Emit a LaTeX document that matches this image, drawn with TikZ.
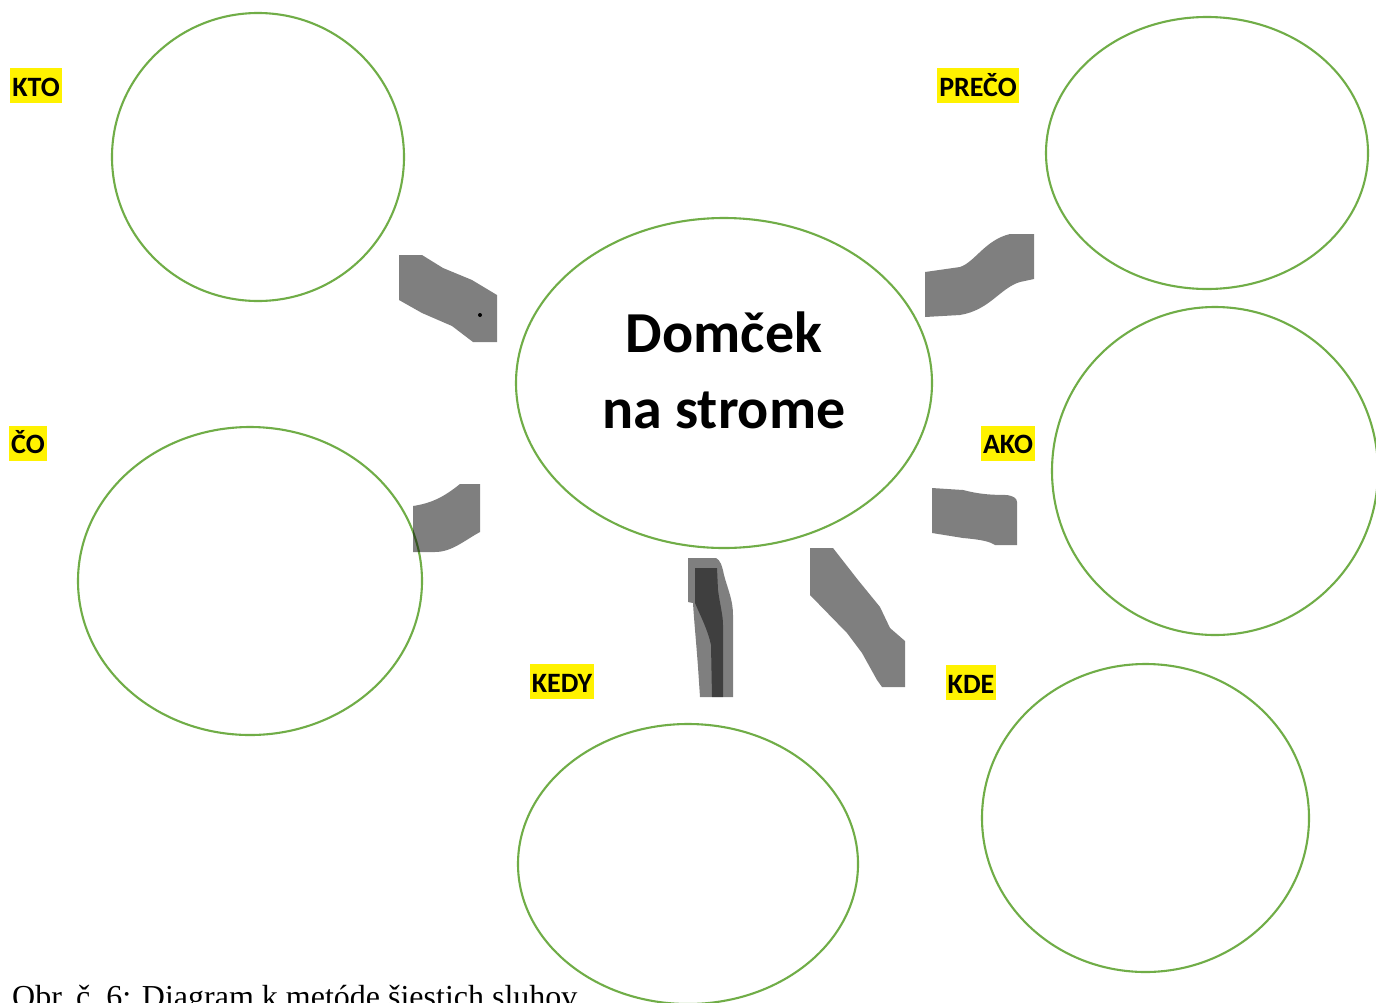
\documentclass[tikz,border=0pt]{standalone}
\usepackage{fontspec}
\setmainfont{Liberation Serif}
\newfontfamily\calib{Carlito}
\usetikzlibrary{shapes.geometric}
\definecolor{ogreen}{HTML}{70AD47}
\begin{document}
\begin{tikzpicture}[x=1pt,y=-1pt,
  bubble/.style={ellipse, draw=ogreen, line width=2.1pt, inner sep=0pt},
  lbl/.style={fill=yellow, font=\calib\bfseries\fontsize{28}{30}\selectfont,
    inner xsep=2pt, inner ysep=7pt, text height=21pt, text depth=0pt},
  title/.style={font=\calib\bfseries\fontsize{58}{70}\selectfont, anchor=base, inner sep=0pt},
  conn/.style={fill=black, fill opacity=0.5}]
\useasboundingbox (0,0) rectangle (1376,1002);
\clip (0,0) rectangle (1376,1002);
\fill[white] (0,0) rectangle (1376,1002);

% bubbles
\node[bubble, minimum width=292pt, minimum height=288pt] (kto) at (258,157) {};
\node[bubble, minimum width=322pt, minimum height=272pt] (preco) at (1207,153) {};
\node[bubble, minimum width=416pt, minimum height=330pt] (center) at (724,383) {};
\node[bubble, minimum width=344pt, minimum height=308pt] (co) at (250,581) {};
\node[bubble, minimum width=326pt, minimum height=328pt] (ako) at (1215,471) {};
\node[bubble, minimum width=340pt, minimum height=280pt] (kedy) at (688,864) {};
\node[bubble, minimum width=327pt, minimum height=308pt] (kde) at (1145.5,818) {};

% title
\node[title] (t1) at (724,352) {Domček};
\node[title] (t2) at (724,428) {na strome};

% labels
\node[lbl] (lkto) at (36,85.5) {KTO};
\node[lbl] (lpreco) at (978,85.5) {PREČO};
\node[lbl] (lco) at (28,443) {ČO};
\node[lbl] (lako) at (1008,443) {AKO};
\node[lbl] (lkedy) at (562,681.5) {KEDY};
\node[lbl] (lkde) at (971,682.5) {KDE};

% connector shapes
\fill[conn] (399,255) -- (422,255) -- (443,268) -- (472,280) -- (497,295) -- (497,342) -- (473,342) -- (452,326) -- (422,313) -- (399,300) -- cycle;
\fill (480,315) circle (2pt);
\fill[conn] (925,272) -- (960,267) .. controls (975,262) and (985,240) .. (1010,234) -- (1034,234) -- (1034,279) -- (1020,282) .. controls (1000,288) and (990,310) .. (960,315) -- (925,317) -- cycle;
\fill[conn] (413,506) .. controls (433,503) and (445,496) .. (460,484) -- (480,484) -- (480,532) .. controls (465,540) and (452,552) .. (435,552) -- (413,552) -- cycle;
\fill[conn] (932,488) -- (963,490) .. controls (975,493) and (985,495) .. (1007,495) .. controls (1013,496) and (1017,498) .. (1017,502) -- (1017,545) -- (995,545) .. controls (990,542) and (985,540) .. (963,538) -- (932,533) -- cycle;
\fill[conn] (688,558) -- (716,558) .. controls (720,560) and (722,565) .. (724,575) .. controls (728,590) and (733,600) .. (733,615) -- (733,697) -- (700,697) -- (698,667) .. controls (696,640) and (694,620) .. (693,603) -- (688,602) -- cycle;
\fill[conn] (695,568) -- (717,568) -- (718,590) .. controls (720,605) and (723,615) .. (723,625) -- (723,697) -- (712,697) -- (711,645) .. controls (708,630) and (700,615) .. (695,603) -- cycle;
\fill[conn] (810,548) -- (833,548) -- (858,580) -- (880,607) -- (890,628) -- (905,641) -- (905,687) -- (882,687) -- (877,680) -- (862,653) -- (847,633) -- (810,595) -- cycle;

% caption
\node[anchor=base west, inner sep=0pt, font=\fontsize{32}{36}\selectfont] (cap) at (12,1007) {Obr.~č.~6: Diagram k metóde šiestich sluhov};
\end{tikzpicture}
\end{document}
